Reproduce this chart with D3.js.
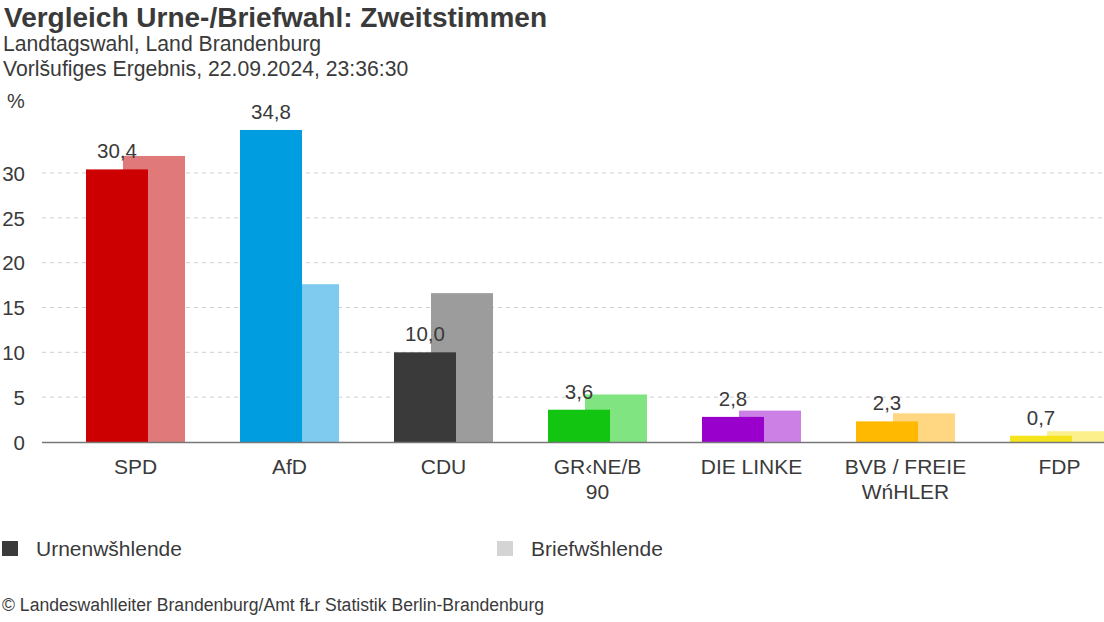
<!DOCTYPE html>
<html><head><meta charset="utf-8">
<script src="https://cdn.jsdelivr.net/npm/d3@7"></script>
<style>
html,body{margin:0;padding:0;background:#fff;}
svg{display:block;font-family:"Liberation Sans",Arial,sans-serif;}
</style></head>
<body>
<svg id="c" width="1104" height="622"></svg>
<script>
const categories = ["SPD","AfD","CDU","GR‹NE/B 90","DIE LINKE","BVB / FREIE WńHLER","FDP"];
const categoryLines = [["SPD"],["AfD"],["CDU"],["GR‹NE/B","90"],["DIE LINKE"],["BVB / FREIE","WńHLER"],["FDP"]];
const urnenwaehlende = [30.4, 34.8, 10.0, 3.6, 2.8, 2.3, 0.7];
const briefwaehlende = [31.9, 17.6, 16.6, 5.3, 3.5, 3.2, 1.2];
const urneColors = ["#cc0000","#009ee0","#3a3a3a","#11c511","#9900cc","#ffb900","#f5e41c"];
const briefColors = ["#e07a7a","#7ecbef","#9c9c9c","#80e480","#cc80e6","#ffd783","#fbf08c"];
const yTicks = [0,5,10,15,20,25,30];
const legendLabels = ["Urnenwšhlende","Briefwšhlende"];
const legendColors = ["#3a3a3a","#d4d4d4"];

const svg = d3.select("#c");
const txt = "#3a3a3a";

svg.append("text").attr("x",4).attr("y",27).attr("font-size",28).attr("font-weight","bold").attr("fill",txt)
  .text("Vergleich Urne-/Briefwahl: Zweitstimmen");
svg.append("text").attr("x",3).attr("y",51).attr("font-size",21.2).attr("fill",txt).text("Landtagswahl, Land Brandenburg");
svg.append("text").attr("x",3).attr("y",76).attr("font-size",21.2).attr("fill",txt).text("Vorlšufiges Ergebnis, 22.09.2024, 23:36:30");
svg.append("text").attr("x",7).attr("y",108).attr("font-size",20).attr("fill",txt).text("%");

const y = d3.scaleLinear().domain([0,30]).range([442,173]);
const x = d3.scaleBand().domain(categories).range([86, 86 + 154*(7 - 55/154)]).paddingInner(55/154).paddingOuter(0);
const barW = 62, offset = 37;

// grid
const g = svg.append("g");
const yAxis = d3.axisLeft(y).tickValues(yTicks).tickSize(0).tickPadding(0).tickFormat(d=>d);
const ax = svg.append("g").attr("transform","translate(25,0)").call(yAxis);
ax.select(".domain").remove();
ax.selectAll("text").attr("font-size",20.5).attr("fill",txt).attr("font-family","Liberation Sans, Arial, sans-serif").attr("dy","0.35em");

g.selectAll("line.grid").data(yTicks.filter(d=>d>0)).join("line")
  .attr("x1",42).attr("x2",1104).attr("y1",d=>y(d)).attr("y2",d=>y(d))
  .attr("stroke","#cfcfcf").attr("stroke-dasharray","4,4").attr("stroke-width",1);

// brief bars (behind)
svg.append("g").selectAll("rect").data(categories).join("rect")
  .attr("x",d=>x(d)+offset).attr("width",barW)
  .attr("y",(d,i)=>y(briefwaehlende[i])).attr("height",(d,i)=>y(0)-y(briefwaehlende[i]))
  .attr("fill",(d,i)=>briefColors[i]);
// urne bars
svg.append("g").selectAll("rect").data(categories).join("rect")
  .attr("x",d=>x(d)).attr("width",barW)
  .attr("y",(d,i)=>y(urnenwaehlende[i])).attr("height",(d,i)=>y(0)-y(urnenwaehlende[i]))
  .attr("fill",(d,i)=>urneColors[i]);

// baseline
svg.append("line").attr("x1",42).attr("x2",1104).attr("y1",y(0)+0.5).attr("y2",y(0)+0.5).attr("stroke","#777").attr("stroke-width",1.5);

// value labels
svg.append("g").selectAll("text").data(categories).join("text")
  .attr("x",d=>x(d)+barW/2).attr("y",(d,i)=>y(urnenwaehlende[i])-11)
  .attr("text-anchor","middle").attr("font-size",20.5).attr("fill",txt)
  .text((d,i)=>d3.format(".1f")(urnenwaehlende[i]).replace(".",","));

// category labels
const cl = svg.append("g").selectAll("text").data(categories).join("text")
  .attr("x",d=>x(d)+x.bandwidth()/2).attr("y",474)
  .attr("text-anchor","middle").attr("font-size",21).attr("fill",txt);
cl.each(function(d,i){
  d3.select(this).selectAll("tspan").data(categoryLines[i]).join("tspan")
    .attr("x",x(d)+x.bandwidth()/2).attr("dy",(t,j)=>j===0?0:25).text(t=>t);
});

// legend
const lx = [2, 497];
legendLabels.forEach((l,i)=>{
  svg.append("rect").attr("x",lx[i]).attr("y",541).attr("width",16).attr("height",15).attr("fill",legendColors[i]);
  svg.append("text").attr("x",lx[i]+34).attr("y",556).attr("font-size",21).attr("fill",txt).text(l);
});

svg.append("text").attr("x",2).attr("y",611).attr("font-size",17.6).attr("fill",txt)
  .text("© Landeswahlleiter Brandenburg/Amt fŁr Statistik Berlin-Brandenburg");
</script>
</body></html>
